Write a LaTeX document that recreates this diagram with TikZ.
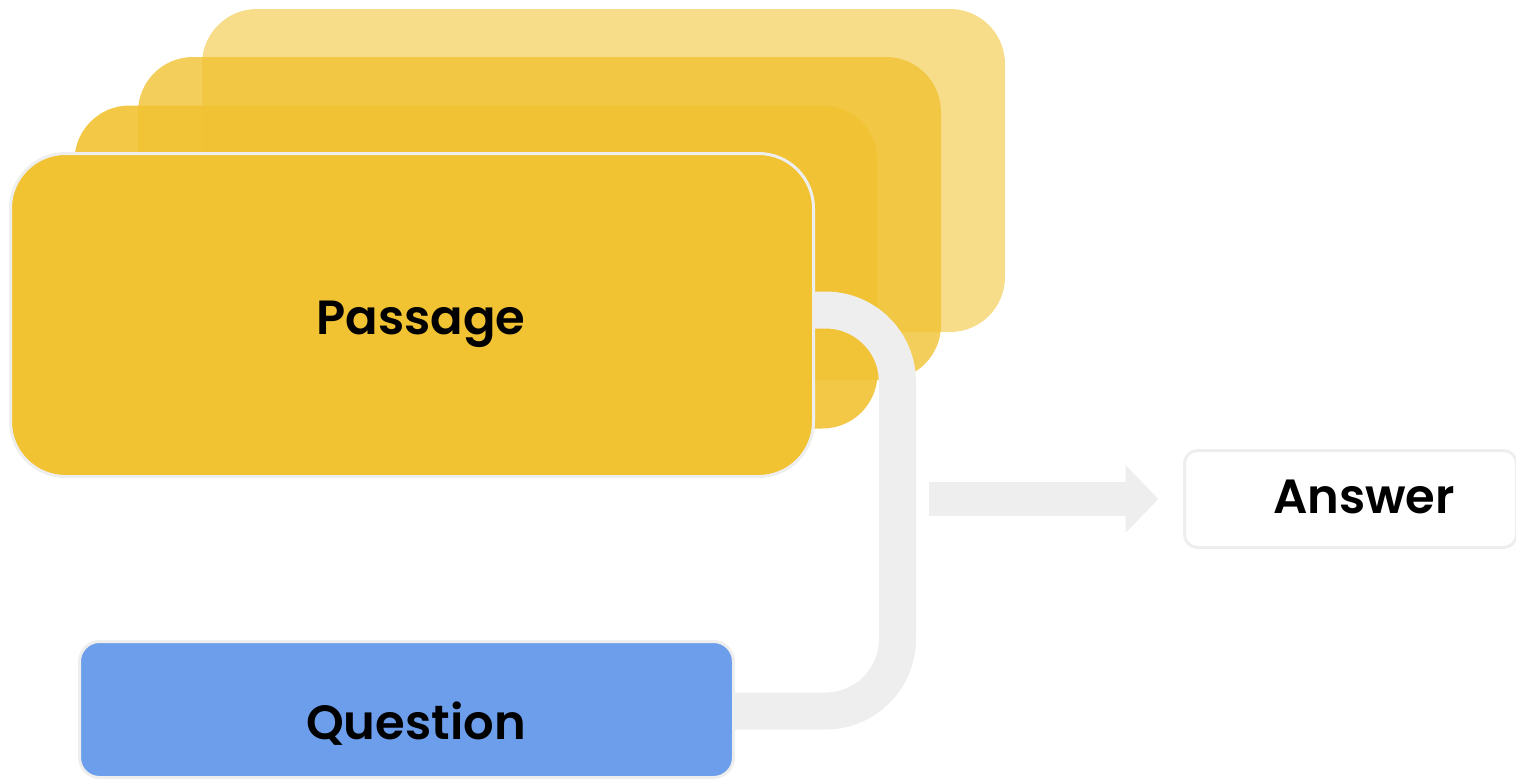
\documentclass[tikz,border=0pt]{standalone}
\usepackage{fontspec}
\setmainfont{Poppins}[BoldFont={Poppins SemiBold}]
\usetikzlibrary{arrows.meta}
\definecolor{cardyellow}{HTML}{F1C232}
\definecolor{qblue}{HTML}{6D9EEB}
\definecolor{lgray}{HTML}{EEEEEE}
\tikzset{
  card/.style={rectangle, rounded corners=55pt, fill=cardyellow, minimum width=803pt, minimum height=323pt, inner sep=0pt, outer sep=0pt},
  frontcard/.style={card, draw=lgray, line width=3pt},
  qbox/.style={rectangle, rounded corners=20pt, fill=qblue, draw=lgray, line width=3pt, minimum width=654pt, minimum height=136pt, inner sep=0pt, outer sep=0pt},
  abox/.style={rectangle, rounded corners=13pt, fill=white, draw=lgray, line width=3pt, minimum width=332pt, minimum height=97pt, inner sep=0pt, outer sep=0pt},
  lbl/.style={font=\fontsize{48}{56}\selectfont\bfseries, text=black, inner sep=0pt},
  conn/.style={draw=lgray, line width=37pt, rounded corners=72pt},
  blockarrow/.style={draw=lgray, line width=34pt, -{Triangle[length=33pt,width=66pt]}}
}
\begin{document}
\begin{tikzpicture}[x=1pt,y=-1pt]
\useasboundingbox (0,0) rectangle (1516,780);
\clip (0,0) rectangle (1516,780);
% stacked background passages
\node[card, fill opacity=0.57] (card3) at (603.5,170.5) {};
\node[card, fill opacity=0.8] (card2) at (539.5,218.5) {};
\node[card, fill opacity=0.9] (card1) at (476,267) {};
% front passage
\node[frontcard] (passage) at (412,315) {};
\node[lbl] (passagetext) at (421,324) {Passage};
% question
\node[qbox] (question) at (406.5,709.5) {};
\node[lbl] (questiontext) at (416,724) {Question};
% connector
\coordinate (cstart) at ([yshift=5pt]passage.east);
\coordinate (cright) at (897.5,310);
\coordinate (cdown) at (897.5,711);
\coordinate (cend) at ([yshift=-1.5pt]question.east);
\draw[conn] (cstart) -- (cright) -- (cdown) -- (cend);
% answer
\node[abox] (answer) at (1350.5,499) {};
\node[lbl] (answertext) at (1364,497) {Answer};
% arrow
\coordinate (astart) at (929,499);
\draw[blockarrow] (astart) -- ([xshift=-26pt]answer.west);
\end{tikzpicture}
\end{document}
